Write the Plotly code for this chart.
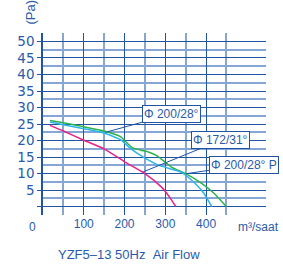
import plotly.graph_objects as go

# Data (airflow m³/saat vs static pressure Pa)
green_x = [17, 50, 100, 150, 190, 205, 220, 240, 260, 280, 315, 350, 390, 420, 450]
green_y = [26.1, 25.4, 24.2, 22.9, 21.2, 19.4, 17.8, 17.1, 16.5, 15.4, 12.0, 10.0, 7.0, 4.0, 0]
cyan_x = [17, 50, 100, 150, 190, 205, 220, 245, 285, 340, 375, 395, 414]
cyan_y = [25.6, 24.8, 23.6, 22.3, 20.3, 18.7, 17.1, 15.1, 12.5, 10.4, 6.8, 4.0, 0]
pink_x = [17, 50, 100, 150, 200, 250, 290, 310, 326]
pink_y = [24.6, 22.9, 20.1, 17.5, 13.6, 10.0, 6.0, 3.0, 0]

series_names = ["Φ200/28° P", "Φ200/28°", "Φ172/31°"]
series_colors = ["#2db34a", "#2fb4e9", "#e8208a"]

x_tick_vals = [100, 200, 300, 400]
x_tick_text = ["100", "200", "300", "400"]
y_tick_vals = [0, 5, 10, 15, 20, 25, 30, 35, 40, 45, 50]
y_tick_text = ["", "5", "10", "15", "20", "25", "30", "35", "40", "45", "50"]

# label boxes: (text, tip x, tip y, box centre x, box centre y)
labels = [
    ("Φ 200/28°", 153, 22.5, 315, 28.0),
    ("Φ 172/31°", 245, 10.5, 436, 20.1),
    ("Φ 200/28° P", 352, 10.0, 494, 12.6),
]

DARK = "#2154a5"
LIGHT = "#86a6d6"
TEXT = "#2a5aaa"
FONT = "Liberation Sans, Arial, sans-serif"

fig = go.Figure()
for xs, ys, name, col in zip([green_x, cyan_x, pink_x], [green_y, cyan_y, pink_y],
                             series_names, series_colors):
    fig.add_trace(go.Scatter(x=xs, y=ys, mode="lines", name=name,
                             line=dict(color=col, width=1.5, shape="spline", smoothing=0.5)))

for text, tx, ty, bx, by in labels:
    fig.add_annotation(x=tx, y=ty, ax=bx, ay=by, axref="x", ayref="y",
                       text=text, showarrow=True, arrowhead=0, arrowwidth=1,
                       arrowcolor=DARK, standoff=0,
                       font=dict(family=FONT, size=12, color=TEXT),
                       bgcolor="white", bordercolor=DARK, borderwidth=1, borderpad=1)

fig.add_annotation(x=0, y=0, xref="x", yref="paper", text="0", showarrow=False,
                   xanchor="center", yanchor="top", xshift=-10.5, yshift=-3,
                   font=dict(family=FONT, size=12, color=TEXT))
fig.add_annotation(x=528, y=0, xref="x", yref="paper", text="m³/saat", showarrow=False,
                   xanchor="center", yanchor="top", yshift=-3,
                   font=dict(family=FONT, size=12, color=TEXT))
fig.add_annotation(x=-0.058, y=1.033, xref="paper", yref="paper", text="(Pa)", showarrow=False,
                   textangle=-90, xanchor="center", yanchor="bottom",
                   font=dict(family=FONT, size=13, color=TEXT))
fig.add_annotation(x=0.385, y=0, xref="paper", yref="paper",
                   text="YZF5–13 50Hz\u00a0\u00a0Air Flow", showarrow=False,
                   xanchor="center", yanchor="top", yshift=-30,
                   font=dict(family=FONT, size=13, color=TEXT))

fig.update_layout(
    width=283, height=266,
    margin=dict(l=43, r=17, t=33, b=51),
    paper_bgcolor="white", plot_bgcolor="white",
    showlegend=False,
    xaxis=dict(range=[0, 547], tickvals=x_tick_vals, ticktext=x_tick_text,
               showgrid=True, gridcolor=DARK, gridwidth=1.2, zeroline=False,
               showline=False, ticks="",
               tickfont=dict(family=FONT, size=12, color=TEXT),
               minor=dict(tick0=50, dtick=100, showgrid=True, gridcolor=LIGHT, gridwidth=2)),
    yaxis=dict(range=[-2.5, 52.55], tickvals=y_tick_vals, ticktext=y_tick_text,
               showgrid=True, gridcolor=DARK, gridwidth=1.2, zeroline=False,
               showline=True, linecolor=DARK, linewidth=1.5,
               ticks="outside", ticklen=4, tickcolor=DARK, tickwidth=1.2,
               tickfont=dict(family="DejaVu Sans, sans-serif", size=13.5, color=TEXT),
               minor=dict(tick0=2.5, dtick=5, showgrid=True, gridcolor=LIGHT, gridwidth=2)),
)

fig.write_html("out.html", config={"displayModeBar": False},
               post_script="document.body.style.margin='0';")
